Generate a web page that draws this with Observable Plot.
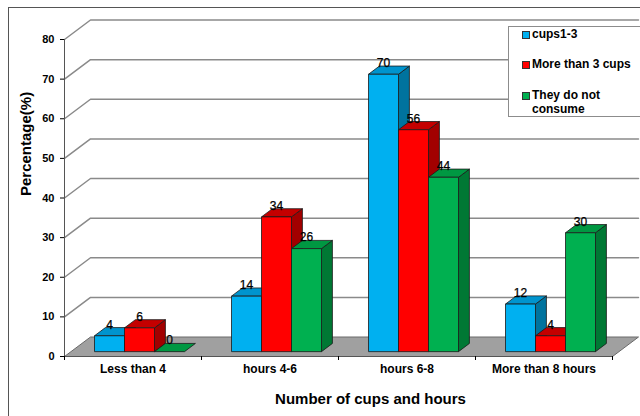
<!DOCTYPE html>
<html>
<head>
<meta charset="utf-8">
<script src="https://cdn.jsdelivr.net/npm/d3@7"></script>
<script src="https://cdn.jsdelivr.net/npm/@observablehq/plot@0.6"></script>
<style>
  body { margin: 0; background: #fff; font-family: "Liberation Sans", Arial, sans-serif; }
  #wrap { position: relative; width: 640px; height: 416px; overflow: hidden; background: #fff; }
  #wrap svg { position: absolute; left: 0; top: 0; overflow: visible; }
  #border { position: absolute; left: 8px; top: 7px; width: 700px; height: 500px; border: 1.5px solid #555; pointer-events: none; }
  #legend { position: absolute; left: 508px; top: 26px; width: 140px; height: 89px; border: 1px solid #8c8c8c; background: #fff; }
  .entry { position: absolute; left: 13px; display: flex; align-items: flex-start; font-weight: bold; font-size: 12px; line-height: 14px; color: #000; }
  .swatch { width: 6px; height: 6px; border: 0.5px solid #333; margin: 4px 2px 0 0; flex: none; }
  .entry span { width: 108px; }
</style>
</head>
<body>
<div id="wrap">
  <div id="border"></div>
</div>
<script>
// Survey results: share of respondents (%) by daily cups and hours
const categories = ["Less than 4", "hours 4-6", "hours 6-8", "More than 8 hours"];
const seriesNames = ["cups1-3", "More than 3 cups", "They do not consume"];
const cups1to3 = [4, 14, 70, 12];
const moreThan3Cups = [6, 34, 56, 4];
const doNotConsume = [0, 26, 44, 30];
const yTicks = [0, 10, 20, 30, 40, 50, 60, 70, 80];

// face shades for each series: front, top, side
const frontColors = ["#00B0F0", "#FF0000", "#00B050"];
const topColors = ["#0094CE", "#C40000", "#009842"];
const sideColors = ["#00739E", "#A20000", "#007834"];

const series = [cups1to3, moreThan3Cups, doNotConsume];
const nCat = categories.length;
const yMax = yTicks[yTicks.length - 1];

// frame layout
const width = 640, height = 416;
const marginLeft = 64, marginRight = 28, marginTop = 39, marginBottom = 60;
const unitX = (width - marginLeft - marginRight) / nCat;   // px per category
const unitY = (height - marginTop - marginBottom) / yMax;  // px per percentage point

// depth of the 3-D box and bars, expressed in data units
const wall = {dx: 26 / unitX, dy: 19.5 / unitY};
const barW = 30 / unitX;
const barFront = 0.25, barDepth = 0.42;

// polygons for the bar faces, drawn left to right so nearer bars overlap
const faces = [];
const labels = [];
categories.forEach((cat, c) => {
  series.forEach((vals, s) => {
    const v = vals[c];
    const x0 = c + 0.5 - 1.5 * barW + s * barW + barFront * wall.dx;
    const x1 = x0 + barW;
    const y0 = barFront * wall.dy;
    const y1 = y0 + v;
    const bx = barDepth * wall.dx, by = barDepth * wall.dy;
    const add = (face, fill, pts) =>
      pts.concat([pts[0]]).forEach(([x, y]) => faces.push({id: `${c}-${s}-${face}`, x, y, fill}));
    if (v > 0) add("side", sideColors[s], [[x1, y0], [x1 + bx, y0 + by], [x1 + bx, y1 + by], [x1, y1]]);
    add("top", topColors[s], [[x0, y1], [x1, y1], [x1 + bx, y1 + by], [x0 + bx, y1 + by]]);
    if (v > 0) add("front", frontColors[s], [[x0, y0], [x1, y0], [x1, y1], [x0, y1]]);
    labels.push({x: (x0 + x1) / 2, y: y1, v});
  });
});

// back-wall gridlines: a slanted run from the front axis, then along the wall
const grid = yTicks.filter((t) => t > 0).flatMap((t) => [
  {t, x: 0, y: t},
  {t, x: wall.dx, y: t + wall.dy},
  {t, x: nCat + wall.dx, y: t + wall.dy}
]);

// grey floor of the box
const floor = [[0, 0], [nCat, 0], [nCat + wall.dx, wall.dy], [wall.dx, wall.dy], [0, 0]].map(([x, y]) => ({x, y}));

const chart = Plot.plot({
  width, height, marginLeft, marginRight, marginTop, marginBottom,
  x: {domain: [0, nCat], axis: null},
  y: {domain: [0, yMax], axis: null},
  color: {type: "identity"},
  style: {fontFamily: "'Liberation Sans', Arial, sans-serif", fontSize: "11px", background: "transparent", color: "#000"},
  marks: [
    Plot.line(floor, {x: "x", y: "y", fill: "#a0a0a0", stroke: "#6a6a6a", strokeWidth: 1}),
    Plot.line(grid, {x: "x", y: "y", z: "t", stroke: "#8a8a8a", strokeWidth: 1.5}),
    Plot.ruleX([0], {stroke: "#555"}),
    Plot.ruleY([0], {stroke: "#555"}),
    Plot.axisY({ticks: yTicks, tickSize: 4, tickPadding: 6, fontWeight: "bold", fontSize: 11, label: null}),
    Plot.axisX({ticks: d3.range(nCat + 1), tickSize: 4, tickFormat: () => "", label: null}),
    Plot.text(categories, {x: (d, i) => i + 0.5, text: (d) => d, frameAnchor: "bottom", dy: 16, fontWeight: "bold", fontSize: 12}),
    Plot.line(faces, {x: "x", y: "y", z: "id", fill: "fill", stroke: "#1b1b1b", strokeWidth: 0.8, strokeLinejoin: "miter", strokeLinecap: "butt"}),
    Plot.text(labels, {x: "x", y: "y", text: "v", dy: -11, fontSize: 12, fill: "#000", stroke: "#000", strokeWidth: 0.25}),
    Plot.text(["Percentage(%)"], {text: (d) => d, frameAnchor: "left", dx: -38, dy: -2, rotate: -90, fontWeight: "bold", fontSize: 15}),
    Plot.text(["Number of cups and hours"], {text: (d) => d, frameAnchor: "bottom", dx: 32, dy: 47, fontWeight: "bold", fontSize: 15})
  ]
});

const wrap = document.getElementById("wrap");
wrap.insertBefore(chart, wrap.firstChild);

// legend box
const legend = document.createElement("div");
legend.id = "legend";
const tops = [0, 30, 61];
seriesNames.forEach((name, i) => {
  const entry = document.createElement("div");
  entry.className = "entry";
  entry.style.top = tops[i] + "px";
  const sw = document.createElement("div");
  sw.className = "swatch";
  sw.style.background = frontColors[i];
  const label = document.createElement("span");
  label.textContent = name;
  entry.append(sw, label);
  legend.append(entry);
});
wrap.append(legend);
</script>
</body>
</html>
